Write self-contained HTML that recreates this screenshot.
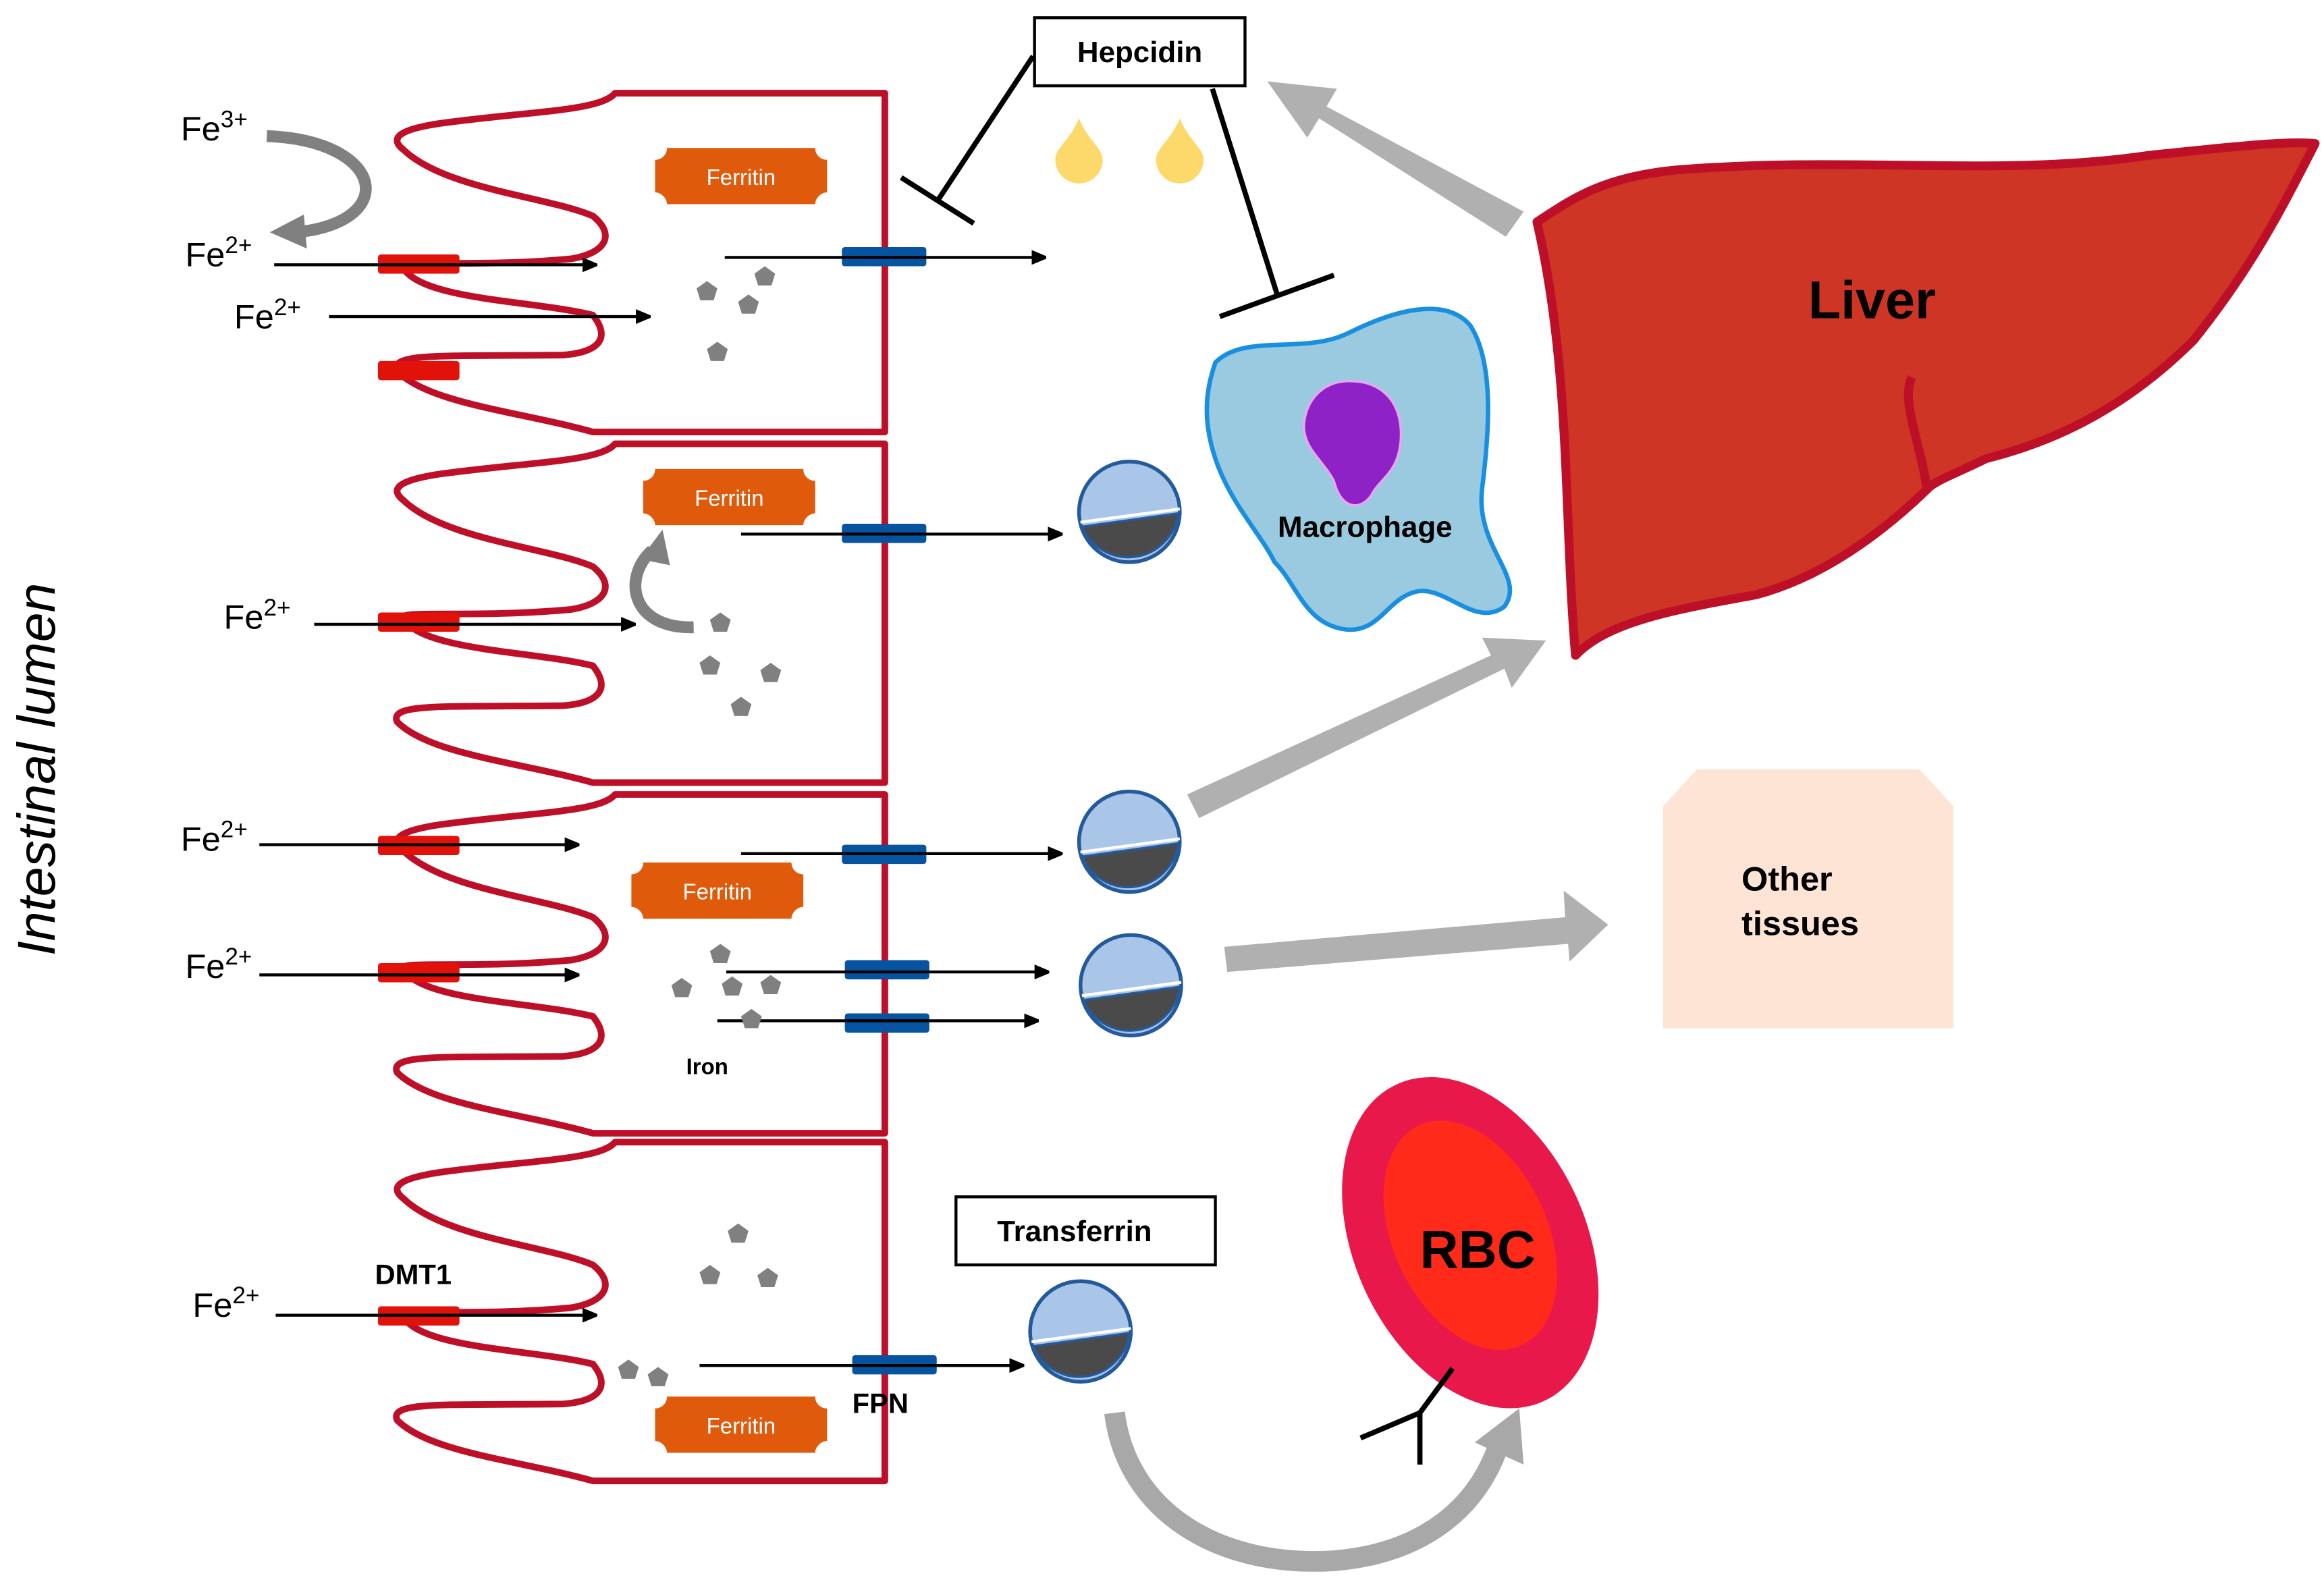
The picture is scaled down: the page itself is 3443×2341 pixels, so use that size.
<!DOCTYPE html>
<html><head><meta charset="utf-8"><style>
html,body{margin:0;padding:0;background:#fff;}
svg{display:block;}
text{font-family:"Liberation Sans",sans-serif;}
</style></head><body>
<svg width="3443" height="2341" viewBox="0 0 1568 1068" preserveAspectRatio="none" xmlns="http://www.w3.org/2000/svg">
<defs>
<marker id="ah" markerWidth="10" markerHeight="10" refX="9" refY="5" orient="auto" markerUnits="userSpaceOnUse"><path d="M0,0 L12,5 L0,10 Z" fill="#000"/></marker>
<g id="villus">
<path d="M597,0 L415,0 C405,12 360,12 300,20 C270,24 262,30 272,38 C300,65 370,70 400,83 C415,95 410,108 385,112 C320,118 268,112 272,118 C285,140 360,140 400,150 C412,165 405,175 380,177 C300,178 262,175 268,188 C290,210 350,215 400,229 L597,229 Z" fill="none" stroke="#bd1028" stroke-width="4.5" stroke-linejoin="round"/>
</g>
<g id="pent"><path d="M0,-7 L7,-2 L4.5,6 L-4.5,6 L-7,-2 Z" fill="#808080"/></g>
<g id="tf">
<circle cx="0" cy="0" r="34" fill="#a9c5e8" stroke="#245a9c" stroke-width="2.5"/>
<path d="M-32,10 L33,1 A34,34 0 0 1 -32,10 Z" fill="#4a4a4a" stroke="#245a9c" stroke-width="1.5"/>
<line x1="-33" y1="7" x2="34" y2="-2" stroke="#fff" stroke-width="2"/>
</g>
<g id="ferr"><path d="M8,0 L108,0 C108,5 112,8 116,8 L116,30 C112,30 108,34 108,38 L8,38 C8,34 4,30 0,30 L0,8 C4,8 8,5 8,0 Z" fill="#e05a0c"/></g>
</defs>

<use href="#villus" y="63"/>
<use href="#villus" y="300"/>
<use href="#villus" y="537"/>
<use href="#villus" y="772"/>

<g fill="#e0120a">
<rect x="255" y="172" width="55" height="13" rx="2"/>
<rect x="255" y="244" width="55" height="13" rx="2"/>
<rect x="255" y="414" width="55" height="13" rx="2"/>
<rect x="255" y="565" width="55" height="13" rx="2"/>
<rect x="255" y="651" width="55" height="13" rx="2"/>
<rect x="255" y="883" width="55" height="13" rx="2"/>
</g>
<g fill="#0653a0">
<rect x="568" y="167" width="57" height="13" rx="2"/>
<rect x="568" y="354" width="57" height="13" rx="2"/>
<rect x="568" y="571" width="57" height="13" rx="2"/>
<rect x="570" y="649" width="57" height="13" rx="2"/>
<rect x="570" y="685" width="57" height="13" rx="2"/>
<rect x="575" y="916" width="57" height="13" rx="2"/>
</g>

<g stroke="#000" stroke-width="2" marker-end="url(#ah)">
<line x1="185" y1="179" x2="402" y2="179"/>
<line x1="222" y1="214" x2="438" y2="214"/>
<line x1="489" y1="174" x2="705" y2="174"/>
<line x1="212" y1="422" x2="428" y2="422"/>
<line x1="500" y1="361" x2="716" y2="361"/>
<line x1="175" y1="571" x2="390" y2="571"/>
<line x1="500" y1="577" x2="716" y2="577"/>
<line x1="175" y1="659" x2="390" y2="659"/>
<line x1="490" y1="657" x2="707" y2="657"/>
<line x1="484" y1="690" x2="700" y2="690"/>
<line x1="186" y1="889" x2="402" y2="889"/>
<line x1="472" y1="923" x2="690" y2="923"/>
</g>

<g font-size="23" fill="#000">
<text x="122" y="95">Fe<tspan font-size="16" dy="-9">3+</tspan></text>
<text x="125" y="180">Fe<tspan font-size="16" dy="-9">2+</tspan></text>
<text x="158" y="222">Fe<tspan font-size="16" dy="-9">2+</tspan></text>
<text x="151" y="425">Fe<tspan font-size="16" dy="-9">2+</tspan></text>
<text x="122" y="575">Fe<tspan font-size="16" dy="-9">2+</tspan></text>
<text x="125" y="661">Fe<tspan font-size="16" dy="-9">2+</tspan></text>
<text x="130" y="890">Fe<tspan font-size="16" dy="-9">2+</tspan></text>
</g>
<text x="253" y="868" font-size="19" font-weight="bold">DMT1</text>
<text x="575" y="955" font-size="19" font-weight="bold">FPN</text>
<text x="463" y="726" font-size="15" font-weight="bold">Iron</text>

<path d="M180,92 C260,95 270,150 200,157" fill="none" stroke="#808080" stroke-width="8"/>
<path d="M182,157 L205,145 L207,168 Z" fill="#808080"/>
<path d="M468,424 C425,425 420,390 440,372" fill="none" stroke="#808080" stroke-width="8"/>
<path d="M447,358 L432,378 L452,382 Z" fill="#808080"/>

<use href="#ferr" x="442" y="100"/>
<use href="#ferr" x="434" y="317"/>
<use href="#ferr" x="426" y="583"/>
<use href="#ferr" x="442" y="944"/>
<g font-size="15" fill="#fff" text-anchor="middle">
<text x="500" y="125">Ferritin</text>
<text x="492" y="342">Ferritin</text>
<text x="484" y="608">Ferritin</text>
<text x="500" y="969">Ferritin</text>
</g>

<use href="#pent" x="477" y="197"/><use href="#pent" x="516" y="187"/><use href="#pent" x="505" y="206"/><use href="#pent" x="484" y="238"/>
<use href="#pent" x="486" y="421"/><use href="#pent" x="479" y="450"/><use href="#pent" x="520" y="455"/><use href="#pent" x="500" y="478"/>
<use href="#pent" x="486" y="645"/><use href="#pent" x="460" y="668"/><use href="#pent" x="494" y="667"/><use href="#pent" x="520" y="666"/><use href="#pent" x="507" y="689"/>
<use href="#pent" x="498" y="834"/><use href="#pent" x="479" y="862"/><use href="#pent" x="518" y="864"/><use href="#pent" x="424" y="926"/><use href="#pent" x="444" y="931"/>
<use href="#pent" x="961" y="245"/><use href="#pent" x="980" y="262"/>

<rect x="698" y="12" width="142" height="46" fill="#fff" stroke="#000" stroke-width="2"/>
<text x="769" y="42" font-size="20" font-weight="bold" text-anchor="middle">Hepcidin</text>
<g stroke="#000" stroke-width="3.5">
<line x1="697" y1="38" x2="633" y2="135"/><line x1="608" y1="120" x2="657" y2="151"/>
<line x1="818" y1="60" x2="862" y2="200"/><line x1="823" y1="214" x2="900" y2="186"/>
</g>
<path d="M728,80 C722,95 712,100 712,108 A16,16 0 0 0 744,108 C744,100 734,95 728,80 Z" fill="#fdd86a"/>
<path d="M796,80 C790,95 780,100 780,108 A16,16 0 0 0 812,108 C812,100 802,95 796,80 Z" fill="#fdd86a"/>

<path d="M1037,150 C1060,135 1080,120 1130,115 C1250,105 1350,120 1450,105 C1500,100 1540,95 1562,97 C1540,140 1520,180 1480,230 C1430,280 1380,300 1340,310 C1320,320 1305,325 1300,331 C1270,360 1230,390 1185,402 C1130,412 1085,420 1063,443 C1055,350 1060,250 1037,150 Z" fill="#cf3525" stroke="#bd1028" stroke-width="6" stroke-linejoin="round"/>
<path d="M1290,255 C1282,270 1296,300 1300,330" fill="none" stroke="#bd1028" stroke-width="6"/>
<text x="1263" y="215" font-size="36" font-weight="bold" text-anchor="middle">Liver</text>

<path d="M820,245 C840,225 880,240 910,225 C940,210 975,200 992,220 C1008,245 1005,290 1000,330 C995,370 1030,390 1015,410 C995,425 975,395 955,400 C935,405 930,430 905,425 C880,420 875,395 860,380 C850,360 830,340 820,310 C810,280 815,260 820,245 Z" fill="#99cadf" stroke="#1a8fe0" stroke-width="3"/>
<path d="M905,258 C932,255 947,272 945,298 C943,320 932,322 925,335 C918,345 905,345 900,325 C892,310 878,302 880,285 C882,270 892,260 905,258 Z" fill="#8e22c6" stroke="#e8a8f0" stroke-width="1.5"/>
<text x="921" y="363" font-size="20" font-weight="bold" text-anchor="middle">Macrophage</text>

<use href="#tf" x="762" y="346"/>
<use href="#tf" x="762" y="569"/>
<use href="#tf" x="763" y="666"/>
<use href="#tf" x="729" y="900"/>
<rect x="645" y="809" width="175" height="46" fill="#fff" stroke="#000" stroke-width="2"/>
<text x="725" y="839" font-size="20" font-weight="bold" text-anchor="middle">Transferrin</text>

<path d="M1145,520 L1295,520 L1318,545 L1318,695 L1122,695 L1122,545 Z" fill="#fde4d4"/>
<text x="1175" y="602" font-size="23" font-weight="bold">Other</text>
<text x="1175" y="632" font-size="23" font-weight="bold">tissues</text>

<ellipse cx="992" cy="840" rx="78" ry="118" transform="rotate(-25 992 840)" fill="#e8194a"/>
<ellipse cx="992" cy="835" rx="52" ry="82" transform="rotate(-25 992 835)" fill="#ff2a1a"/>
<text x="997" y="857" font-size="36" font-weight="bold" text-anchor="middle">RBC</text>
<g stroke="#000" stroke-width="3.5" fill="none">
<line x1="958" y1="990" x2="958" y2="955"/><line x1="958" y1="955" x2="918" y2="972"/><line x1="958" y1="955" x2="980" y2="925"/>
</g>

<g fill="#b0b0b0">
<path d="M1028,143 L1016,160 L890,80 L882,93 L855,55 L902,60 L895,72 Z"/>
<path d="M801,537 L809,553 L1015,452 L1020,465 L1043,433 L1000,431 L1006,443 Z"/>
<path d="M826,640 L828,657 L1058,638 L1059,650 L1085,625 L1055,602 L1056,620 Z"/>
</g>
<path d="M752,955 C760,1020 820,1060 900,1055 C960,1050 995,1020 1010,980" fill="none" stroke="#a8a8a8" stroke-width="14"/>
<path d="M1025,952 L995,975 L1028,990 Z" fill="#a8a8a8"/>

<text transform="translate(37,520) rotate(-90)" font-size="36" font-style="italic" text-anchor="middle">Intestinal lumen</text>
</svg>
</body></html>
